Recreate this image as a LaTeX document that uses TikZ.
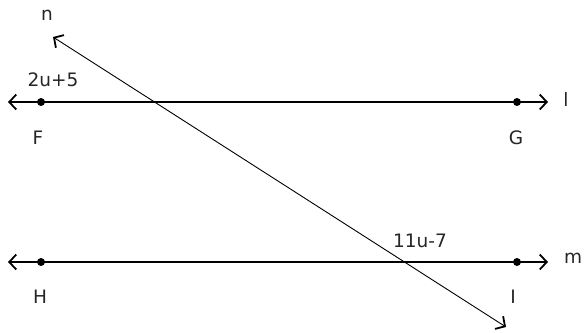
\documentclass[tikz,border=0pt]{standalone}
\usepackage{fontspec}
\setmainfont{DejaVu Sans}
\usetikzlibrary{arrows.meta}
\begin{document}
\begin{tikzpicture}[x=1pt,y=-1pt,
  lbl/.style={font=\fontsize{18.5}{20}\selectfont, text=black!85, inner sep=0pt},
  ln/.style={line width=1.3pt, {Straight Barb[length=7pt,width=15pt,line width=1.8pt]}-{Straight Barb[length=7pt,width=15pt,line width=1.8pt]}},
  tn/.style={line width=0.9pt, {Straight Barb[length=7pt,width=15pt,line width=1.8pt]}-{Straight Barb[length=7pt,width=15pt,line width=1.8pt]}},
  dot/.style={circle, fill=black, inner sep=0pt, minimum size=8pt}]
\useasboundingbox (0,0) rectangle (588,332);
\coordinate (lL) at (8,102);
\coordinate (lR) at (548,102);
\coordinate (mL) at (8,262);
\coordinate (mR) at (548,262);
\coordinate (nT) at (53,37);
\coordinate (nB) at (506,327);
\draw[ln] (lL) -- (lR);
\draw[ln] (mL) -- (mR);
\draw[tn] (nT) -- (nB);
\node[dot] (F) at (41,102) {};
\node[dot] (G) at (517,102) {};
\node[dot] (H) at (41,262) {};
\node[dot] (I) at (517,262) {};
\node[lbl] (nlab) at (47,15) {n};
\node[lbl] (llab) at (566,99) {l};
\node[lbl] (mlab) at (573,258) {m};
\node[lbl] (Flab) at (38,138) {F};
\node[lbl] (Glab) at (516,138) {G};
\node[lbl] (Hlab) at (40,297) {H};
\node[lbl] (Ilab) at (513,297) {I};
\node[lbl] (a1) at (53,80) {2u+5};
\node[lbl] (a2) at (420,241) {11u-7};
\end{tikzpicture}
\end{document}
